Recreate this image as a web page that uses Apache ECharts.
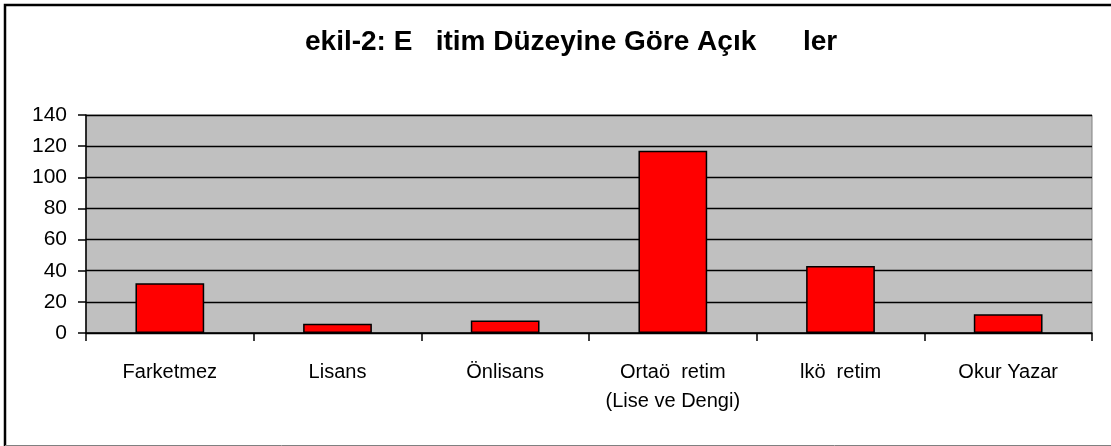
<!DOCTYPE html>
<html><head><meta charset="utf-8">
<script src="https://cdn.jsdelivr.net/npm/echarts@6/dist/echarts.min.js"></script>
<style>html,body{margin:0;padding:0;background:#fff}#c{width:1111px;height:446px}</style>
</head><body><div id="c"></div>
<script>
const titleText = 'ekil-2: E   itim Düzeyine Göre Açık      ler';
const categories = ['Farketmez', 'Lisans', 'Önlisans', 'Ortaö  retim\n(Lise ve Dengi)', 'lkö  retim', 'Okur Yazar'];
const values = [32, 6, 8, 117, 43, 12];
const yTicks = [0, 20, 40, 60, 80, 100, 120, 140];

const chart = echarts.init(document.getElementById('c'), null, {renderer: 'canvas'});
chart.setOption({
  animation: false,
  backgroundColor: '#fff',
  title: {
    text: titleText,
    left: 300, top: 23,
    textStyle: {fontFamily: 'Liberation Sans', fontWeight: 'bold', fontSize: 28, color: '#000'}
  },
  grid: {left: 86, right: 19, top: 115, bottom: 113, show: true, backgroundColor: '#C0C0C0', borderColor: '#808080', borderWidth: 1},
  xAxis: {
    type: 'category', data: categories,
    axisLine: {lineStyle: {color: '#000', width: 1.5}},
    axisTick: {show: true, length: 8, alignWithLabel: false, lineStyle: {color: '#000', width: 1.5}},
    axisLabel: {fontFamily: 'Liberation Sans', fontSize: 20, color: '#000', margin: 25, lineHeight: 29, interval: 0}
  },
  yAxis: {
    type: 'value', min: yTicks[0], max: yTicks[yTicks.length - 1], interval: 20,
    axisLine: {show: true, lineStyle: {color: '#000', width: 1.5}},
    axisTick: {show: true, length: 8, lineStyle: {color: '#000', width: 1.5}},
    splitLine: {show: true, lineStyle: {color: '#000', width: 1.4}},
    axisLabel: {fontFamily: 'Liberation Sans', fontSize: 21, color: '#000', margin: 19}
  },
  series: [{
    type: 'bar', data: values, barWidth: '41%',
    itemStyle: {color: '#FF0000', borderColor: '#000', borderWidth: 1.5}
  }],
  graphic: [
    {type: 'polyline', shape: {points: [[5, 446], [5, 5], [1111, 5]]}, style: {stroke: '#000', lineWidth: 2.5, fill: null}},
    {type: 'line', shape: {x1: 5, y1: 445.5, x2: 1111, y2: 445.5}, style: {stroke: '#808080', lineWidth: 1}}
  ]
});
</script></body></html>
